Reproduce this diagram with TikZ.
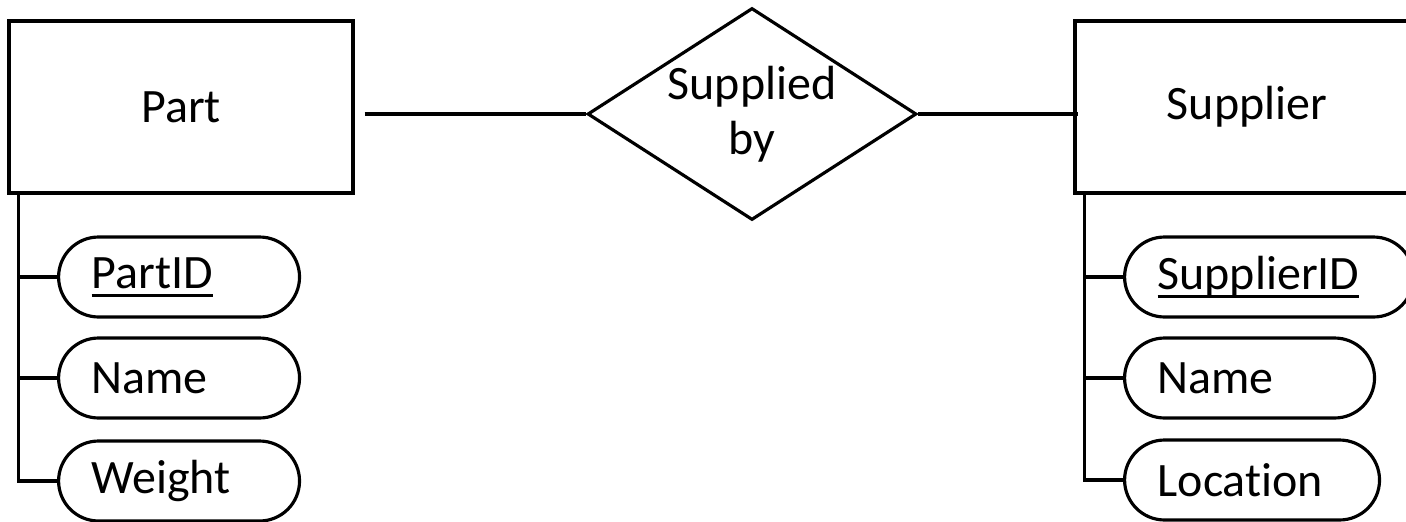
\documentclass[tikz,border=0pt]{standalone}
\usepackage{fontspec}
\setmainfont{Carlito}[Ligatures=NoCommon]
\usetikzlibrary{positioning,shapes.geometric}
\newcommand{\keyattr}[1]{\setbox0\hbox{#1}\rlap{\rule[-5pt]{\wd0}{1.7pt}}\box0}

\begin{document}
\begin{tikzpicture}[x=0.02cm, y=-0.02cm, line width=1.8pt,
    font=\fontsize{27.3}{31}\selectfont,
    entity/.style={draw, minimum width=6.88cm, minimum height=3.44cm},
    relation/.style={draw, diamond, aspect=1.55, inner sep=0pt, align=center,
      minimum width=6.58cm, minimum height=4.24cm},
    attr/.style={draw, rounded corners=0.8cm, anchor=west, align=left,
      inner xsep=0.66cm, inner ysep=0pt, minimum height=1.6cm}]
  \clip (0,0) rectangle (1406,521);

  % Entities and relationship
  \node[entity] (part) at (181,107) {Part};
  \node[entity] (supplier) at (1247,107) {Supplier};
  \node[relation] (supplied) at (752,114) {Supplied\\by};

  \draw ([xshift=0.2cm]part.east |- supplied.west) -- (supplied.west);
  \draw (supplied.east) -- ([xshift=0.1cm]supplier.west |- supplied.east);

  % Attributes of Part
  \node[attr, text width=3.5cm] (partid) at (57,277) {\keyattr{PartID}};
  \node[attr, text width=3.5cm] (partname) at (57,378) {Name};
  \node[attr, text width=3.5cm] (weight) at (57,481) {Weight};

  \coordinate (ptrunk) at ([xshift=0.22cm]part.south west);
  \draw (ptrunk) |- (weight.west);
  \draw (ptrunk |- partid.west) -- (partid.west);
  \draw (ptrunk |- partname.west) -- (partname.west);

  % Attributes of Supplier
  \node[attr, text width=4.46cm] (supplierid) at (1123,277) {\keyattr{SupplierID}};
  \node[attr, text width=3.68cm] (suppname) at (1123,378) {Name};
  \node[attr, text width=3.78cm] (location) at (1123,480) {Location};

  \coordinate (strunk) at ([xshift=0.22cm]supplier.south west);
  \draw (strunk) |- (location.west);
  \draw (strunk |- supplierid.west) -- (supplierid.west);
  \draw (strunk |- suppname.west) -- (suppname.west);
\end{tikzpicture}
\end{document}
